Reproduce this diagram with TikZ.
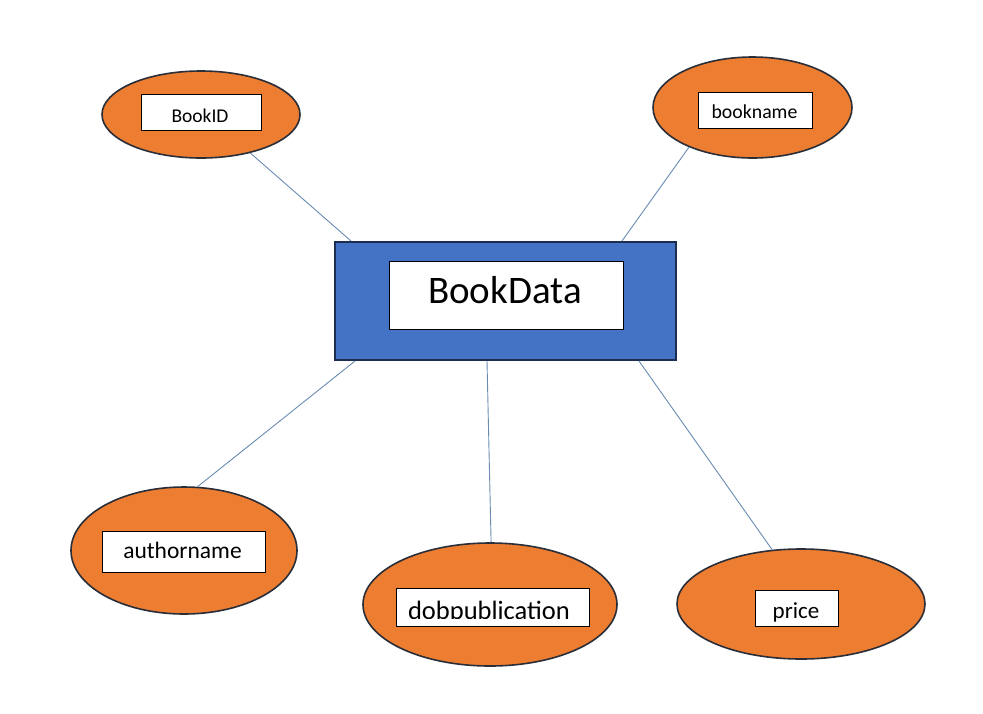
\documentclass[tikz,border=0pt]{standalone}
\usepackage{fontspec}
\setmainfont{Carlito}
\usetikzlibrary{shapes.geometric,calc}
\definecolor{attrorange}{HTML}{ED7D31}
\definecolor{entblue}{HTML}{4472C4}
\definecolor{entborder}{HTML}{1B2D50}
\definecolor{ellborder}{HTML}{2A2E38}
\definecolor{linkblue}{HTML}{6A8CB3}
\tikzset{
  attr/.style={ellipse, draw=ellborder, line width=1.6pt, fill=attrorange, inner sep=0pt},
  entity/.style={rectangle, draw=entborder, line width=2pt, fill=entblue, inner sep=0pt},
  label box/.style={rectangle, draw=black, line width=0.9pt, fill=white, inner sep=0pt},
  txt/.style={anchor=base, inner sep=0pt, text=black},
  link/.style={draw=linkblue, line width=0.9pt}
}
\begin{document}
\begin{tikzpicture}[x=1pt,y=-1pt]
\useasboundingbox (0,0) rectangle (983,713);
\fill[white] (0,0) rectangle (983,713);
% entity
\node[entity, minimum width=341pt, minimum height=118pt] (bookdata) at (505.5,301) {};
\node[label box, minimum width=234pt, minimum height=68pt] (bookdatabox) at (506,295) {};
\node[txt, font=\fontsize{39}{40}\selectfont] (bookdatatxt) at (505,303) {BookData};
% attributes
\node[attr, minimum width=198pt, minimum height=87pt] (bookid) at (201,114.5) {};
\node[label box, minimum width=120pt, minimum height=36pt] (bookidbox) at (201,112) {};
\node[txt, font=\fontsize{19.5}{21}\selectfont] (bookidtxt) at (200,122) {BookID};

\node[attr, minimum width=199pt, minimum height=101pt] (bookname) at (752.5,107.5) {};
\node[label box, minimum width=114pt, minimum height=36pt] (booknamebox) at (755,110) {};
\node[txt, font=\fontsize{19.8}{21}\selectfont] (booknametxt) at (754.5,118) {bookname};

\node[attr, minimum width=226pt, minimum height=127pt] (author) at (184,550.5) {};
\node[label box, minimum width=163pt, minimum height=41pt] (authorbox) at (183.5,551.5) {};
\node[txt, font=\fontsize{23.5}{25}\selectfont] (authortxt) at (182.5,558) {authorname};

\node[attr, minimum width=254pt, minimum height=123pt] (dob) at (490,604.5) {};
\node[label box, minimum width=193pt, minimum height=38pt] (dobbox) at (492.5,607) {};
\begin{scope}
\clip (397,589) rectangle (588,618);
\node[txt, font=\fontsize{26.5}{28}\selectfont] (dobtxt) at (489,619) {dobpublication};
\end{scope}

\node[attr, minimum width=248pt, minimum height=110pt] (price) at (801,604) {};
\node[label box, minimum width=83pt, minimum height=36pt] (pricebox) at (796.5,608) {};
\node[txt, font=\fontsize{23}{24}\selectfont] (pricetxt) at (796,618) {price};
% connectors
\draw[link] (bookid.-38) -- ($(bookdata.north west)+(17,0)$);
\draw[link] (bookname.-148) -- ($(bookdata.north east)+(-55,0)$);
\draw[link] (author.78) -- ($(bookdata.south west)+(21,0)$);
\draw[link] (dob.89) -- ($(bookdata.south west)+(153,0)$);
\draw[link] (price.118) -- ($(bookdata.south east)+(-38,0)$);
\end{tikzpicture}
\end{document}
